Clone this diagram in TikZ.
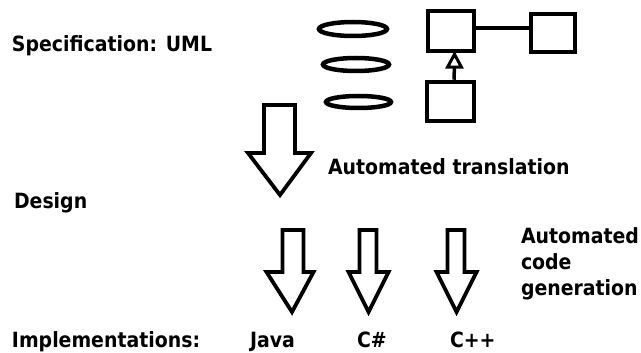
\documentclass[tikz,border=0pt]{standalone}
\usepackage{fontspec}
\newfontfamily\labfont{DejaVu Sans}[FakeStretch=0.9]
\usetikzlibrary{shapes.geometric,arrows.meta}
\begin{document}
\begin{tikzpicture}[x=1pt,y=-1pt,
  lab/.style={inner sep=0pt,outer sep=0pt,anchor=base west,font=\labfont\bfseries\fontsize{21}{26}\selectfont},
  usecase/.style={draw,ellipse,line width=4.5pt,inner sep=0pt},
  cls/.style={draw,rectangle,line width=4.5pt,inner sep=0pt},
  blockarrow/.style={draw,line width=3.8pt,line join=miter,fill=white},
  gen/.style={line width=3.5pt},
  genhead/.style={draw,line width=3pt,line join=miter,fill=white},
  assoc/.style={line width=3.8pt}]
\useasboundingbox (0,0) rectangle (641,353);
% labels
\node[lab] (spec) at (12,52) {Specification: UML};
\node[lab] (design) at (14,208) {Design};
\node[lab] (impl) at (12,347) {Implementations:};
\node[lab] (trans) at (328,175) {Automated translation};
\node[lab,align=left,anchor=north west] (codegen) at (521,228) {Automated\\code\\generation};
\node[lab] (java) at (250,347) {Java};
\node[lab] (cs) at (357,347) {C\#};
\node[lab] (cpp) at (450,347) {C++};
% use cases
\node[usecase,minimum width=68pt,minimum height=14pt] (uc1) at (353,29) {};
\node[usecase,minimum width=66pt,minimum height=13pt] (uc2) at (356,64.5) {};
\node[usecase,minimum width=65pt,minimum height=12pt] (uc3) at (358.5,102) {};
% classes
\node[cls,minimum width=46pt,minimum height=40pt] (c1) at (451,31) {};
\node[cls,minimum width=44pt,minimum height=38pt] (c2) at (553,33) {};
\node[cls,minimum width=47pt,minimum height=39pt] (c3) at (450.5,101.5) {};
\draw[assoc] (c1.east |- 0,28) -- (c2.west |- 0,28);
\draw[gen] ([xshift=3.5pt]c3.north) -- ([xshift=3.5pt,yshift=-12pt]c1.south);
\draw[genhead] ([xshift=3.5pt,yshift=-1pt]c1.south) -- ++(-7,13) -- ++(14,0) -- cycle;
% big arrow
\draw[blockarrow] (264,105) -- (295,105) -- (295,153) -- (311,153) -- (280,195) -- (248,153) -- (264,153) -- cycle;
% small arrows
\draw[blockarrow] (282.5,230) -- (303.5,230) -- (303.5,272) -- (313.5,272) -- (292,312) -- (266.5,272) -- (282.5,272) -- cycle;
\draw[blockarrow] (359.5,230) -- (376.5,230) -- (376.5,272) -- (388.5,272) -- (368.5,312) -- (348.5,272) -- (359.5,272) -- cycle;
\draw[blockarrow] (447.5,230) -- (464.5,230) -- (464.5,272) -- (476.5,272) -- (456.5,312) -- (436.5,272) -- (447.5,272) -- cycle;
\end{tikzpicture}
\end{document}
